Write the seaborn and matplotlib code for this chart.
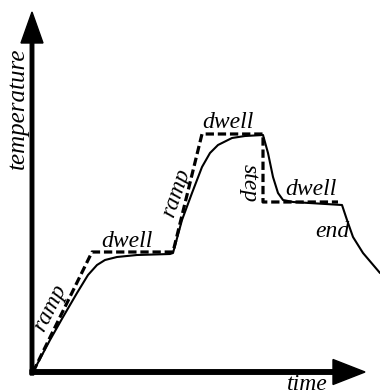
import matplotlib
matplotlib.use("Agg")
import matplotlib.pyplot as plt
import seaborn as sns
import pandas as pd

# ---- data (time, temperature in arbitrary units) ----
profile_time = [0, 59, 140, 169, 230, 230, 305]
profile_temp = [0, 120, 120, 238, 238, 170, 170]

actual_time = [0, 17, 30, 44, 55, 64, 72, 84, 104, 137, 140, 149, 159, 169, 177,
               185, 199, 212, 230, 235, 240, 245, 250, 260, 309, 314, 320, 330, 347]
actual_temp = [0, 32, 55, 79, 97, 107, 112, 115, 117, 118, 119, 152, 179, 205, 219,
               227, 234, 236, 237, 219, 195, 179, 172, 170, 167, 152, 135, 119, 99]

labels = ["ramp", "dwell", "ramp", "dwell", "step", "dwell", "end"]
x_label = "time"
y_label = "temperature"

sns.set_theme(style="white")
plt.rcParams['font.family'] = ['serif']
plt.rcParams['font.serif'] = ['Liberation Serif', 'DejaVu Serif']

fig = plt.figure(figsize=(3.8, 3.92), dpi=100)
ax = fig.add_axes([0, 0, 1, 1])
ax.set_xlim(-33, 347)
ax.set_ylim(-20, 372)
ax.axis("off")

df_p = pd.DataFrame({"time": profile_time, "temp": profile_temp})
df_a = pd.DataFrame({"time": actual_time, "temp": actual_temp})

sns.lineplot(data=df_p, x="time", y="temp", sort=False, estimator=None, ax=ax,
             color="black", lw=2.3, linestyle=(0, (2.6, 1.2)), solid_capstyle="butt")
sns.lineplot(data=df_a, x="time", y="temp", sort=False, estimator=None, ax=ax,
             color="black", lw=1.5)

# axes arrows
ax.arrow(-1, -3, 0, 363, width=3.5, head_width=22, head_length=31,
         length_includes_head=True, color="black", zorder=5)
ax.arrow(-3, 0, 335, 0, width=4.5, head_width=25, head_length=32,
         length_includes_head=True, color="black", zorder=5)

fs = 17
tkw = dict(fontsize=fs, fontstyle="italic", color="black",
           fontfamily="Liberation Serif")
ax.text(-15, 264, y_label, rotation=90, ha="center", va="center",
        rotation_mode="anchor", fontsize=18, fontstyle="italic", color="black",
        fontfamily="Liberation Serif")
ax.text(274, -18, x_label, ha="center", va="baseline", **tkw)

ax.text(17, 64, labels[0], rotation=63, ha="center", va="center",
        rotation_mode="anchor", **tkw)
ax.text(94, 125, labels[1], ha="center", va="baseline", **tkw)
ax.text(143, 179, labels[2], rotation=71, ha="center", va="center",
        rotation_mode="anchor", **tkw)
ax.text(195, 244, labels[3], ha="center", va="baseline", **tkw)
ax.text(216, 189, labels[4], rotation=270, ha="center", va="center",
        rotation_mode="anchor", **tkw)
ax.text(278, 177, labels[5], ha="center", va="baseline", **tkw)
ax.text(299, 135, labels[6], ha="center", va="baseline", **tkw)

fig.savefig("out.png", dpi=100)
